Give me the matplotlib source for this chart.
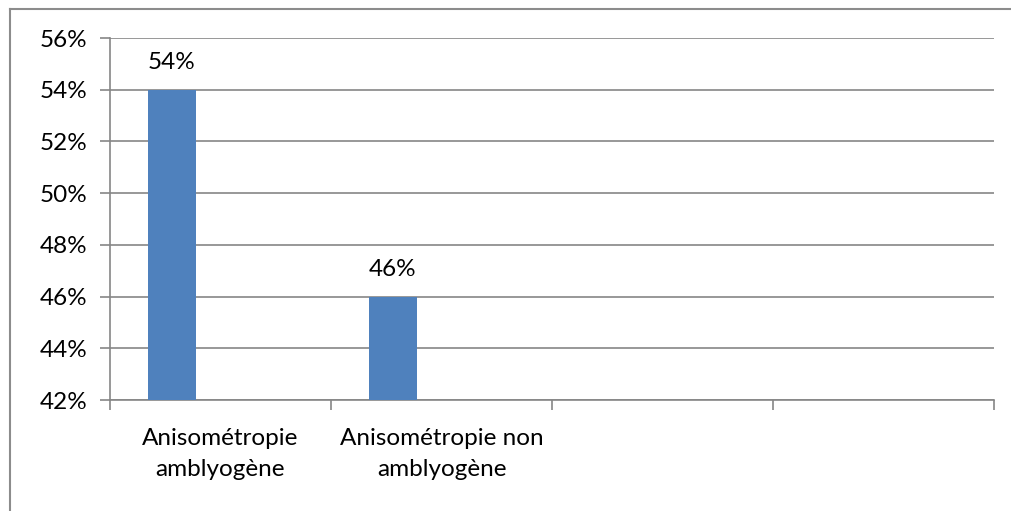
import numpy as np
import matplotlib.pyplot as plt
from matplotlib.lines import Line2D
from matplotlib.ticker import FuncFormatter

categories = ['Anisométropie\namblyogène', 'Anisométropie non\namblyogène', '', '']
values = [0.54, 0.46]
labels = ['54%', '46%']

plt.rcParams['font.family'] = ['Lato', 'DejaVu Sans']
fs = 17.5

fig = plt.figure(figsize=(10.11, 5.11), dpi=100)
ax = fig.add_axes([110/1011, 1-400/511, 884/1011, 362/511])

ind = np.arange(len(values))
bars = ax.bar(ind - 0.328, values, width=0.217, align='edge', color='#4f81bd', zorder=3)

for b, t in zip(bars, labels):
    ax.annotate(t, (b.get_x() + b.get_width()/2, b.get_height()),
                xytext=(0, 12), textcoords='offset points',
                ha='center', va='bottom', fontsize=fs)

ax.set_xlim(-0.5, len(categories) - 0.5)
ax.set_ylim(0.42, 0.56)
ax.set_yticks(np.arange(0.42, 0.5601, 0.02))
ax.yaxis.set_major_formatter(FuncFormatter(lambda v, p: f'{v*100:.0f}%'))
ax.grid(axis='y', color='#868686', linewidth=1.2, zorder=0)

ax.set_xticks(np.arange(len(categories)))
ax.set_xticklabels(categories, fontsize=fs, linespacing=1.6)
ax.set_xticks(np.arange(-0.5, len(categories)), minor=True)
ax.tick_params(axis='x', which='major', length=0, pad=20)
ax.tick_params(axis='x', which='minor', length=7, color='#868686', width=1.2)
ax.tick_params(axis='y', length=7, color='#868686', width=1.2, labelsize=fs, pad=9)

for s in ['top', 'right']:
    ax.spines[s].set_visible(False)
for s in ['left', 'bottom']:
    ax.spines[s].set_color('#868686')
    ax.spines[s].set_linewidth(1.2)

# cadre du graphique
fig.add_artist(Line2D([10/1011, 10/1011], [0, 1-9/511], color='#8c8c8c', lw=1.5))
fig.add_artist(Line2D([10/1011, 1], [1-9/511, 1-9/511], color='#8c8c8c', lw=1.5))

fig.savefig('out.png', dpi=100)
